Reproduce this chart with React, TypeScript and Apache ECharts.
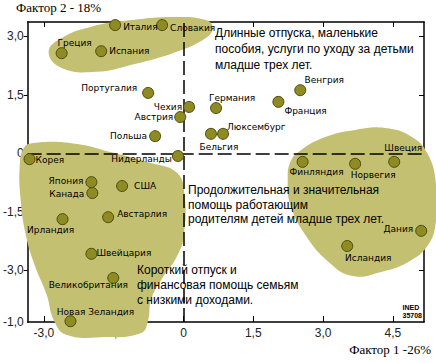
import React, { useEffect, useRef } from "react";
import * as echarts from "echarts";

// ---- data ----
const countries = [
  "Италия", "Словакия", "Греция", "Испания", "Португалия", "Чехия", "Австрия",
  "Германия", "Венгрия", "Франция", "Польша", "Бельгия", "Люксембург", "Нидерланды",
  "Корея", "Япония", "Канада", "США", "Австарлия", "Ирландия", "Швейцария",
  "Великобритания", "Новая Зеландия", "Финляндия", "Норвегия", "Швеция", "Дания", "Исландия",
];
const factor1 = [
  -1.47, -0.46, -2.62, -1.77, -0.76, 0.12, -0.07,
  0.70, 2.51, 2.04, -0.61, 0.59, 0.85, -0.12,
  -3.31, -1.98, -1.96, -1.32, -1.62, -2.60, -1.98,
  -1.51, -2.43, 2.56, 3.69, 4.53, 5.11, 3.52,
];
const factor2 = [
  3.29, 3.29, 2.57, 2.62, 1.55, 1.19, 0.93,
  1.16, 1.62, 1.32, 0.44, 0.50, 0.50, -0.07,
  -0.15, -0.74, -1.02, -0.84, -1.64, -1.69, -2.58,
  -3.20, -4.31, -0.22, -0.27, -0.22, -1.99, -2.38,
];

const xTickValues = [-3, -1.5, 0, 1.5, 3, 4.5];
const xTickLabels = ["-3,0", "-1,5", "0", "1,5", "3,0", "4,5"];
const yTickValues = [3, 1.5, 0, -1.5, -3];
const yLabelValues = [3, 1.5, 0, -1.5, -3, -4.33];
const yLabelTexts = ["3,0", "1,5", "0", "-1,5", "-3,0", "-1,0"];

const xTitle = "Фактор 1 -26%";
const yTitle = "Фактор 2 - 18%";

// cluster outlines (factor1, factor2)
const blobTop = [
  [-2.90, 2.60], [-2.62, 2.96], [-1.98, 3.25], [-1.12, 3.42], [-0.16, 3.50], [0.48, 3.42],
  [0.63, 3.22], [0.48, 2.96], [-0.16, 2.60], [-1.12, 2.27], [-1.87, 2.09], [-2.62, 2.19],
];
const blobLeft = [
  [-3.26, 0.26], [-2.41, 0.26], [-1.55, 0.03], [-0.70, -0.25], [-0.16, -0.48], [0.01, -0.94],
  [0.01, -2.10], [-0.16, -2.69], [-0.48, -3.25], [-0.70, -3.76], [-0.76, -4.28], [-0.91, -4.61],
  [-1.77, -4.72], [-2.52, -4.66], [-2.79, -4.28], [-2.94, -3.64], [-3.20, -2.87], [-3.39, -2.10],
  [-3.50, -1.20], [-3.52, -0.30], [-3.43, 0.14],
];
const blobRight = [
  [2.52, 0.08], [3.05, 0.42], [3.69, 0.60], [4.33, 0.65], [4.91, 0.42], [5.26, -0.04],
  [5.43, -0.81], [5.43, -1.71], [5.26, -2.35], [4.83, -2.79], [4.23, -3.05], [3.63, -3.15],
  [3.12, -2.79], [2.62, -2.10], [2.30, -1.33], [2.24, -0.69], [2.30, -0.22],
];
const blobs = [blobTop, blobLeft, blobRight];

const note1 = "Длинные отпуска, маленькие\nпособия, услуги по уходу за детьми\nмладше трех лет.";
const note2 = "Продолжительная и значительная\nпомощь работающим\nродителям детей младше трех лет.";
const note3 = "Короткий отпуск и\nфинансовая помощь семьям\nс низкими доходами.";

// ---- label placement (layout) ----
const labelPlace: Record<string, any> = {
  "Италия": { position: "right", distance: 2, offset: [0, 2] },
  "Словакия": { position: "right", distance: 2, offset: [0, 3] },
  "Греция": { position: "top", distance: 0, offset: [13, 0] },
  "Испания": { position: "right", distance: 2, offset: [0, 0] },
  "Португалия": { position: "left", distance: 5, offset: [0, -5] },
  "Чехия": { position: "left", distance: 1, offset: [0, 0] },
  "Австрия": { position: "left", distance: 1, offset: [0, 0] },
  "Германия": { position: "top", distance: 0, offset: [16, 0] },
  "Венгрия": { position: "top", distance: 0, offset: [24, 0] },
  "Франция": { position: "right", distance: 0, offset: [0, 9] },
  "Польша": { position: "left", distance: 2, offset: [0, 0] },
  "Бельгия": { position: "bottom", distance: 3, offset: [8, 0] },
  "Люксембург": { position: "right", distance: 0, offset: [-2, -7] },
  "Нидерланды": { position: "left", distance: 0, offset: [0, 3] },
  "Корея": { position: "right", distance: 0, offset: [0, 1] },
  "Япония": { position: "left", distance: 2, offset: [0, -1] },
  "Канада": { position: "left", distance: 2, offset: [0, 1] },
  "США": { position: "right", distance: 6, offset: [0, 0] },
  "Австарлия": { position: "right", distance: 3, offset: [0, -3] },
  "Ирландия": { position: "bottom", distance: 0, offset: [-12, 0] },
  "Швейцария": { position: "right", distance: -1, offset: [0, -1] },
  "Великобритания": { position: "bottom", distance: 0, offset: [-25, -3] },
  "Новая Зеландия": { position: "top", distance: -1, offset: [25, 0] },
  "Финляндия": { position: "bottom", distance: 0, offset: [14, 0] },
  "Норвегия": { position: "bottom", distance: 1, offset: [18, 0] },
  "Швеция": { position: "top", distance: 3, offset: [9, 0] },
  "Дания": { position: "left", distance: 2, offset: [0, -2] },
  "Исландия": { position: "bottom", distance: 1, offset: [21, 0] },
};

const X_MIN = -3.35, X_MAX = 5.17, Y_MIN = -4.33, Y_MAX = 3.37;
const SANS = "Liberation Sans";

export default function App() {
  const ref = useRef<HTMLDivElement>(null);
  useEffect(() => {
    if (!ref.current) return;
    const chart = echarts.init(ref.current, null, { renderer: "svg" });
    const xLab = (v: number) => {
      const i = xTickValues.findIndex((t) => Math.abs(t - v) < 1e-6);
      return i >= 0 ? xTickLabels[i] : "";
    };
    const yLab = (v: number) => {
      const i = yLabelValues.findIndex((t) => Math.abs(t - v) < 1e-6);
      return i >= 0 ? yLabelTexts[i] : "";
    };
    const axisBase = {
      type: "value",
      splitLine: { show: false },
      axisLine: { show: true, onZero: false, lineStyle: { color: "#000", width: 1.5 } },
    };
    chart.setOption({
      animation: false,
      backgroundColor: "#fff",
      grid: { left: 26, right: 12, top: 22, bottom: 41, containLabel: false },
      xAxis: [
        {
          ...axisBase, position: "bottom", min: X_MIN, max: X_MAX,
          axisTick: { show: true, inside: true, length: 6, customValues: xTickValues, lineStyle: { color: "#000" } },
          axisLabel: { customValues: xTickValues, formatter: xLab, color: "#222", fontSize: 12, fontFamily: SANS, margin: 5 },
        },
        {
          ...axisBase, position: "top", min: X_MIN, max: X_MAX,
          axisTick: { show: true, inside: true, length: 5, customValues: xTickValues, lineStyle: { color: "#000" } },
          axisLabel: { show: false },
        },
      ],
      yAxis: [
        {
          ...axisBase, position: "left", min: Y_MIN, max: Y_MAX,
          axisTick: { show: true, inside: false, length: 4, customValues: yTickValues, lineStyle: { color: "#000" } },
          axisLabel: { customValues: yLabelValues, formatter: yLab, color: "#222", fontSize: 12, fontFamily: SANS, margin: 4 },
        },
        {
          ...axisBase, position: "right", min: Y_MIN, max: Y_MAX,
          axisTick: { show: true, inside: true, length: 5, customValues: yTickValues, lineStyle: { color: "#000" } },
          axisLabel: { show: false },
        },
      ],
      series: [
        {
          type: "custom",
          coordinateSystem: "cartesian2d",
          clip: false,
          silent: true,
          z: 1,
          data: blobs.map(() => [0, 0]),
          renderItem: (params: any, api: any) => {
            const pts = blobs[params.dataIndex].map((p) => api.coord(p));
            return {
              type: "polygon",
              shape: { points: pts, smooth: 0.45 },
              style: { fill: "#c4c072", stroke: "none" },
            };
          },
        },
        {
          type: "scatter",
          z: 3,
          symbol: "circle",
          symbolSize: 11,
          clip: false,
          itemStyle: { color: "#8e8b22", borderColor: "#4d4b10", borderWidth: 1, opacity: 1 },
          label: { show: true, fontSize: 9, fontFamily: "DejaVu Sans", color: "#000", formatter: "{b}" },
          data: countries.map((name, i) => ({
            name,
            value: [factor1[i], factor2[i]],
            label: labelPlace[name],
          })),
          markLine: {
            silent: true,
            symbol: ["none", "none"],
            label: { show: false },
            lineStyle: { type: [14, 5], color: "#000", width: 1.5 },
            data: [{ xAxis: 0 }, { yAxis: 0 }],
            z: 2,
          },
        },
      ],
      graphic: [
        { type: "text", left: 215, top: 25, z: 10, style: { text: note1, font: `12px ${SANS}`, lineHeight: 16, fill: "#000" } },
        { type: "text", left: 188, top: 183, z: 10, style: { text: note2, font: `12px ${SANS}`, lineHeight: 14.5, fill: "#000" } },
        { type: "text", left: 137, top: 262, z: 10, style: { text: note3, font: `12px ${SANS}`, lineHeight: 15, fill: "#000" } },
        { type: "text", left: 16, top: 1, z: 10, style: { text: yTitle, font: "13px Liberation Serif", fill: "#000" } },
        { type: "text", right: 5, top: 343, z: 10, style: { text: xTitle, font: "13px Liberation Serif", fill: "#000" } },
        { type: "text", right: 14, top: 303, z: 10, style: { text: "INED\n35708", font: `bold 7px ${SANS}`, lineHeight: 8, align: "right", fill: "#000" } },
      ],
    });
    return () => chart.dispose();
  }, []);
  return <div ref={ref} style={{ position: "fixed", left: 0, top: 0, width: 436, height: 363 }} />;
}
